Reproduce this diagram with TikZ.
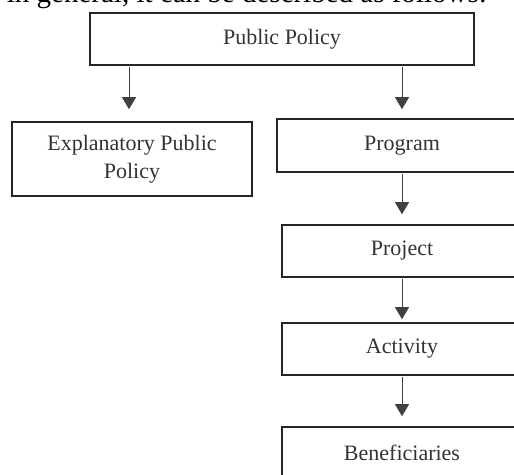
\documentclass[tikz,border=0pt]{standalone}
\usepackage{fontspec}
\setmainfont{Liberation Serif}
\usetikzlibrary{arrows.meta}

\begin{document}
\begin{tikzpicture}[x=1pt, y=-1pt,
        levelbox/.style={draw=black!85, line width=1.6pt, inner sep=0pt, align=center,
            text=black!80, font=\fontsize{22}{28}\selectfont},
        flowarrow/.style={line width=0.8pt, black!75, -{Triangle[width=14pt,length=12pt]},
            shorten <=1pt}]
        \useasboundingbox (0,0) rectangle (514,474);
        \clip (0,0) rectangle (514,474);
        \node[anchor=base east, inner sep=0pt, font=\fontsize{29}{34}\selectfont] (intro) at (487,2.5) {in general, it can be described as follows:};
        \node[levelbox, minimum width=384pt, minimum height=52pt] (policy) at (282,39) {Public Policy};
        \node[levelbox, minimum width=240pt, minimum height=74pt] (explain) at (132,159) {Explanatory Public\\Policy};
        \node[levelbox, minimum width=250pt, minimum height=53pt] (program) at (402,145.5) {Program};
        \node[levelbox, minimum width=240pt, minimum height=52pt] (project) at (402,251) {Project};
        \node[levelbox, minimum width=240pt, minimum height=52pt] (activity) at (402,349) {Activity};
        \node[levelbox, minimum width=240pt, minimum height=52pt] (benefit) at (402,453) {Beneficiaries};
        \draw[flowarrow, shorten >=12pt] ([xshift=-3pt]explain.north |- policy.south) -- ([xshift=-3pt]explain.north);
        \draw[flowarrow, shorten >=9pt] (program.north |- policy.south) -- (program.north);
        \draw[flowarrow, shorten >=10pt] (program) -- (project);
        \draw[flowarrow, shorten >=3pt] (project) -- (activity);
        \draw[flowarrow, shorten >=10pt] (activity) -- (benefit);
    \end{tikzpicture}
\end{document}
